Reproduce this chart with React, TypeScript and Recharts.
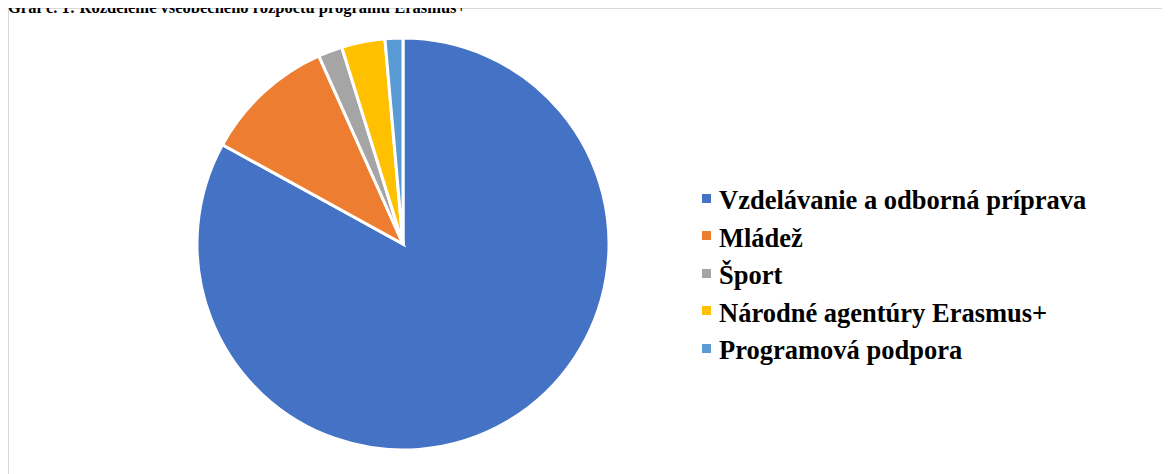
import React from "react";
import { PieChart, Pie, Cell, Legend } from "recharts";

const categories = [
  "Vzdelávanie a odborná príprava",
  "Mládež",
  "Šport",
  "Národné agentúry Erasmus+",
  "Programová podpora",
];
const values = [83, 10.3, 1.9, 3.4, 1.4];
const colors = ["#4472C4", "#ED7D31", "#A5A5A5", "#FFC000", "#5B9BD5"];
const title = "Graf č. 1: Rozdelenie všeobecného rozpočtu programu Erasmus+";

const data = categories.map((name, i) => ({ name, value: values[i] }));

const FONT = '"Liberation Serif", "Times New Roman", serif';

const renderLegend = (props: any) => {
  const payload = [...(props.payload || [])].sort(
    (a: any, b: any) => categories.indexOf(a.value) - categories.indexOf(b.value)
  );
  return (
    <div style={{ fontFamily: FONT, fontWeight: 700, fontSize: 26.5, color: "#000" }}>
      {payload.map((entry: any, i: number) => (
        <div key={i} style={{ display: "flex", alignItems: "center", height: 37.4 }}>
          <span style={{ display: "inline-block", width: 9, height: 9, background: entry.color, marginRight: 8, flex: "none" }} />
          <span style={{ whiteSpace: "nowrap", position: "relative", top: 2.5 }}>{entry.value}</span>
        </div>
      ))}
    </div>
  );
};

export default function App() {
  return (
    <div style={{ position: "relative", width: 1170, height: 466, fontFamily: FONT }}>
      <div
        style={{
          position: "absolute",
          left: 0,
          top: 0,
          width: 1170,
          height: 480,
          borderTop: "1px solid #d9d9d9",
          borderLeft: "1px solid #d9d9d9",
          background: "#fff",
        }}
      >
        <PieChart width={1160} height={465} margin={{ top: 0, right: 0, bottom: 0, left: 0 }}>
          <Pie
            data={data}
            dataKey="value"
            nameKey="name"
            cx={394}
            cy={235}
            outerRadius={206}
            startAngle={90}
            endAngle={-270}
            stroke="#fff"
            strokeWidth={3}
            isAnimationActive={false}
          >
            {data.map((d, i) => (
              <Cell key={d.name} fill={colors[i]} />
            ))}
          </Pie>
          <Legend
            layout="vertical"
            content={renderLegend}
            wrapperStyle={{ position: "absolute", left: 693, top: 170.8, width: 460 }}
          />
        </PieChart>
      </div>
      <div
        style={{
          position: "absolute",
          left: 0,
          top: -10,
          fontFamily: FONT,
          fontWeight: 700,
          fontSize: 16.5,
          whiteSpace: "nowrap",
          lineHeight: "20px",
          zIndex: 2,
        }}
      >
        {title}
      </div>
    </div>
  );
}
